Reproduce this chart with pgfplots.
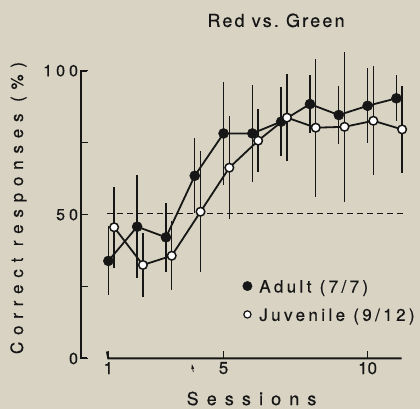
\documentclass[border=0pt]{standalone}
\usepackage{fontspec}
\usepackage{pgfplots}
\usepackage{pgfplotstable}
\pgfplotsset{compat=1.18}
\usetikzlibrary{arrows.meta}
\setmainfont{TeX Gyre Heros}
\newfontfamily\titlef[LetterSpace=12,FakeBold=0.4]{TeX Gyre Heros}
\newfontfamily\labf[LetterSpace=45,FakeBold=0.4]{TeX Gyre Heros}
\newfontfamily\ylabf[LetterSpace=40,FakeBold=0.4]{TeX Gyre Heros}
\newfontfamily\legf[LetterSpace=20,FakeBold=0.4]{TeX Gyre Heros}
\newfontfamily\ytickf[LetterSpace=25,FakeBold=0.4]{TeX Gyre Heros}
\newfontfamily\xtickf[FakeBold=0.4]{TeX Gyre Heros}
\definecolor{bg}{RGB}{216,211,194}
\definecolor{ink}{RGB}{22,22,22}

\pgfplotstableread{
x y e
1 33.9 12
2 45.8 18
3 42.1 12
4 63.5 13
5 78.2 18
6 78.2 17
7 82.3 12
8 88.4 10
9 84.6 10
10 87.8 13
11 90.4 8
}\adult

\pgfplotstableread{
x y e
1.2 45.6 14
2.2 32.5 11
3.2 35.7 12
4.2 51.0 21
5.2 66.3 18
6.2 75.7 11
7.2 83.7 15
8.2 80.2 24
9.2 80.5 26
10.2 82.6 19
11.2 79.6 15
}\juvenile

\begin{document}
\begin{tikzpicture}[x=1pt,y=1pt]
\useasboundingbox (-81,-50.5) rectangle ++(420,409);
\fill[bg] (-81,-50.5) rectangle ++(420,409);
\begin{axis}[
  at={(0,0)}, anchor=south west,
  scale only axis, width=320.7pt, height=287.8pt,
  xmin=0.05, xmax=11.185, ymin=0, ymax=100,
  axis line style={draw=none},
  xtick={1,5,10}, xticklabels={1,5,10},
  ytick={0,25,50,75,100}, yticklabels={0,,50,,100},
  tick align=inside, xtick pos=bottom, ytick pos=left,
  major tick length=7pt,
  tick style={line width=1.6pt, ink},
  xticklabel style={font=\xtickf\fontsize{17}{17}\selectfont, text=ink},
  yticklabel style={font=\ytickf\fontsize{16}{16}\selectfont, text=ink, xshift=0.5pt},
  clip=false,
  legend style={draw=none, fill=none, at={(0.503,0.280)}, anchor=north west,
    font=\legf\fontsize{17}{17}\selectfont, text=ink, row sep=10.5pt, inner sep=0pt},
  legend cell align=left,
]
% reference line
\addplot[ink, line width=1.2pt, dash pattern=on 6pt off 4pt, forget plot] coordinates {(0.95,50.5) (11.3,50.5)};
% adult
\addplot[forget plot, ink, line width=1.8pt, mark=*, mark size=5pt, mark options={fill=ink, draw=ink, line width=0.5pt},
  error bars/.cd, y dir=both, y explicit, error mark=none, error bar style={line width=1.4pt, ink}]
  table[x=x, y=y, y error=e]{\adult};
% juvenile
\addplot[forget plot, ink, line width=1.8pt, mark=*, mark size=4.3pt, mark options={fill=white, draw=ink, line width=1.5pt},
  error bars/.cd, y dir=both, y explicit, error mark=none, error bar style={line width=1.4pt, ink}]
  table[x=x, y=y, y error=e]{\juvenile};
\addlegendimage{legend image code/.code={\fill[ink] (0pt,1pt) circle (4.7pt); \path (9.7pt,1pt);}}
\addlegendentry{Adult (7/7)}
\addlegendimage{legend image code/.code={\draw[ink, line width=1.2pt, fill=white] (0pt,1pt) circle (3.6pt); \path (9.7pt,1pt);}}
\addlegendentry{Juvenile (9/12)}
% axis lines
\draw[ink, line width=2pt, line join=miter] (axis cs:0.05,100) ++(7pt,0) -- (axis cs:0.05,100) -- (axis cs:0.05,0) -- ++(7pt,0);
\draw[ink, line width=2pt, line join=miter] (axis cs:1,0) ++(0,7pt) -- (axis cs:1,0) -- (axis cs:11.185,0);
% arrow mark at session 4
\draw[ink, line width=0.7pt, -{Triangle[length=5pt,width=2.6pt]}] (axis cs:4,0) ++(0,-13.5pt) -- ++(0,8pt);
% texts
\node[anchor=base, font=\titlef\fontsize{18}{18}\selectfont, text=ink] at (axis cs:6.82,115.2) {Red vs.\ Green};
\node[anchor=base, font=\labf\fontsize{18}{18}\selectfont, text=ink] at (axis cs:5.97,-16.2) {Sessions};
\node[rotate=90, anchor=base, font=\ylabf\fontsize{17}{17}\selectfont, text=ink] at (axis cs:-1.964,52.3) {Correct responses (\%)};
\end{axis}
\end{tikzpicture}
\end{document}
